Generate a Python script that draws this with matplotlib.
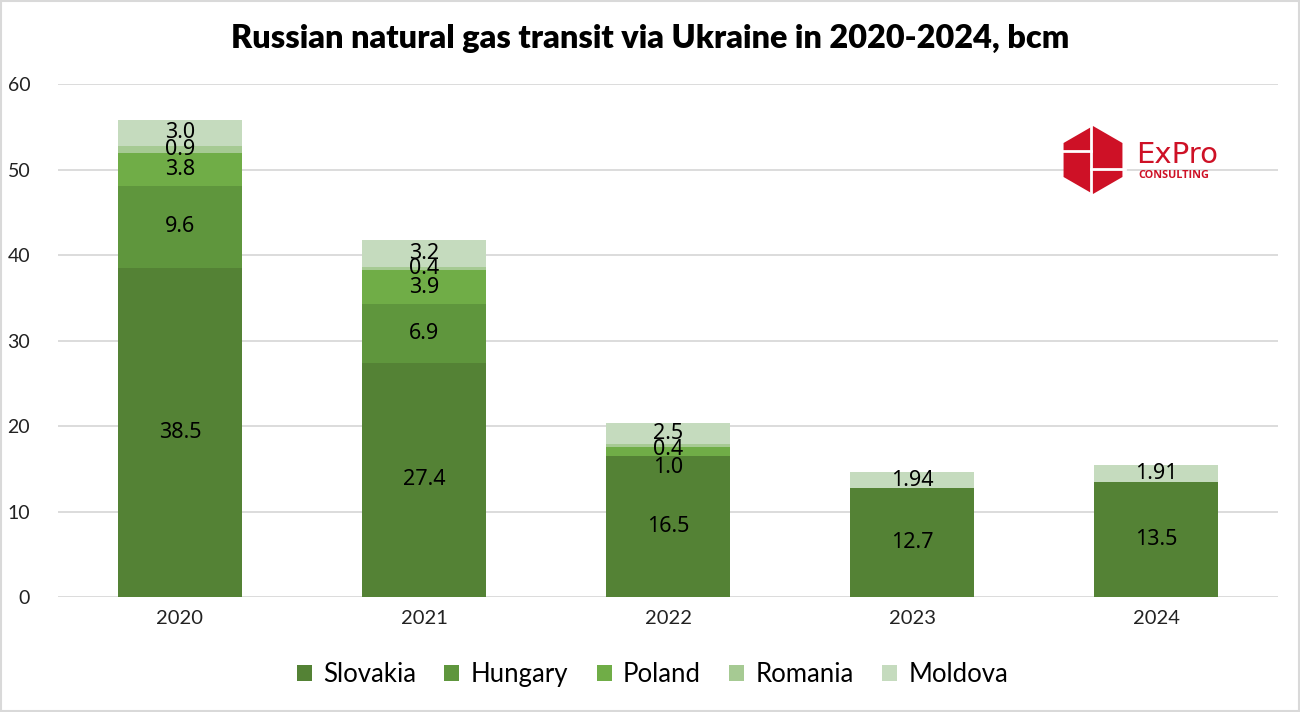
import matplotlib
matplotlib.use("Agg")
import matplotlib.pyplot as plt
from matplotlib.patches import Polygon, Rectangle
import numpy as np

years = ["2020", "2021", "2022", "2023", "2024"]
series_names = ["Slovakia", "Hungary", "Poland", "Romania", "Moldova"]
slovakia = [38.5, 27.4, 16.5, 12.7, 13.5]
hungary = [9.6, 6.9, 0.0, 0.0, 0.0]
poland = [3.8, 3.9, 1.0, 0.0, 0.0]
romania = [0.9, 0.4, 0.4, 0.0, 0.0]
moldova = [3.0, 3.2, 2.5, 1.94, 1.91]
label_texts = [
    ["38.5", "27.4", "16.5", "12.7", "13.5"],
    ["9.6", "6.9", "", "", ""],
    ["3.8", "3.9", "1.0", "", ""],
    ["0.9", "0.4", "0.4", "", ""],
    ["3.0", "3.2", "2.5", "1.94", "1.91"],
]
yticks = [0, 10, 20, 30, 40, 50, 60]

colors = ["#548235", "#5F963D", "#70AD47", "#A6CA93", "#C5DBBE"]
# manual label offsets (points) for crowded segments
offsets = {(2, 2): -11.5, (3, 2): -3}

plt.rcParams['font.family'] = ['Lato', 'DejaVu Sans']
fig = plt.figure(figsize=(13, 7.12), dpi=100)
ax = fig.add_axes([0.0446, 0.1615, 0.9385, 0.7205])

x = np.arange(len(years))
data = [slovakia, hungary, poland, romania, moldova]
bottom = np.zeros(len(years))
for si, (name, vals, col) in enumerate(zip(series_names, data, colors)):
    vals = np.array(vals)
    ax.bar(x, vals, width=0.51, bottom=bottom, color=col, label=name, zorder=2)
    for i, v in enumerate(vals):
        t = label_texts[si][i]
        if v > 0 and t:
            off = offsets.get((si, i), 0)
            ax.annotate(t, (x[i], bottom[i] + v / 2), xytext=(0, off),
                        textcoords="offset points", ha="center", va="center",
                        fontsize=15.5, family=['Noto Sans', 'DejaVu Sans'],
                        color="black", zorder=3)
    bottom += vals

ax.set_xlim(-0.5, 4.5)
ax.set_ylim(0, 60)
ax.set_yticks(yticks)
ax.set_xticks(x)
ax.set_xticklabels(years)
ax.tick_params(axis='x', length=0, labelsize=14.5, colors="#222222", pad=9)
ax.tick_params(axis='y', length=0, labelsize=14, colors="#222222", pad=20)
ax.grid(axis='y', color="#D9D9D9", linewidth=1.3, zorder=0)
for s in ax.spines.values():
    s.set_visible(False)

fig.text(0.5, 0.946, "Russian natural gas transit via Ukraine in 2020-2024, bcm",
         ha="center", va="center", fontsize=23.3, fontweight="heavy")

leg = fig.legend(loc="center", bbox_to_anchor=(0.502, 0.052), ncol=5, frameon=False,
                 fontsize=18.5, handlelength=0.58, handleheight=0.58,
                 columnspacing=1.1, handletextpad=0.45)

# logo
hx, hy, r = 1093, 712 - 160, 34
pts = [(hx + r * np.sin(a), hy + r * np.cos(a)) for a in np.deg2rad([0, 60, 120, 180, 240, 300])]
pts = [(px / 1300, py / 712) for px, py in pts]
fig.patches.append(Polygon(pts, closed=True, transform=fig.transFigure,
                           facecolor="#CE1126", edgecolor="none"))
fig.lines.append(plt.Line2D([1091 / 1300, 1091 / 1300], [(712 - 125) / 712, (712 - 195) / 712],
                            transform=fig.transFigure, color="white", linewidth=2))
fig.lines.append(plt.Line2D([1061 / 1300, 1091 / 1300], [(712 - 151) / 712, (712 - 151) / 712],
                            transform=fig.transFigure, color="white", linewidth=2))
fig.lines.append(plt.Line2D([1091 / 1300, 1125 / 1300], [(712 - 169) / 712, (712 - 169) / 712],
                            transform=fig.transFigure, color="white", linewidth=2))
fig.text(1136 / 1300, (712 - 155) / 712, "ExPro", color="#CE1126", fontsize=21,
         family=['DejaVu Sans'], ha="left", va="center")
fig.text(1138 / 1300, (712 - 175) / 712, "CONSULTING", color="#CE1126", fontsize=7.8,
         fontweight="bold", family=['Open Sans', 'DejaVu Sans'], ha="left", va="center")

# figure border
fig.patches.append(Rectangle((0.001, 0.001), 0.998, 0.998, transform=fig.transFigure,
                             fill=False, edgecolor="#D9D9D9", linewidth=1.5))

fig.savefig("out.png", dpi=100)
